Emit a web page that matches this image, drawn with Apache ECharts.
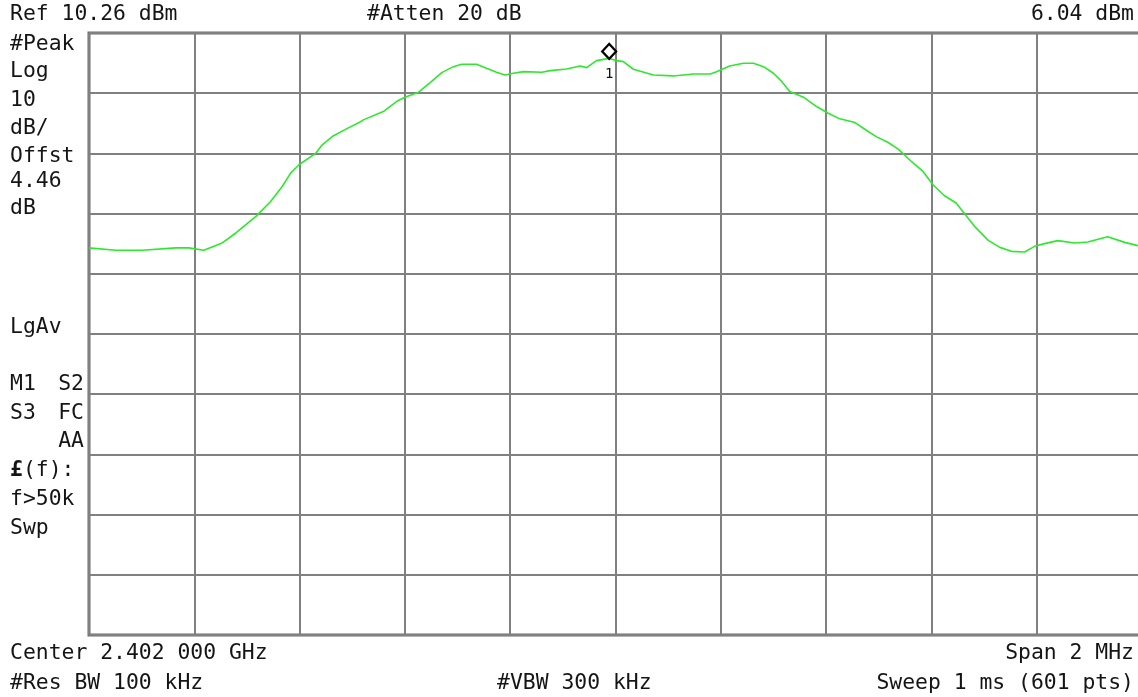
<!DOCTYPE html>
<html>
<head>
<meta charset="utf-8">
<script src="https://cdn.jsdelivr.net/npm/echarts@6/dist/echarts.min.js"></script>
<style>
html,body{margin:0;padding:0;background:#fff;overflow:hidden;width:1138px;height:697px;}
#chart{width:1146px;height:697px;}
</style>
</head>
<body>
<div id="chart"></div>
<script>
// Instrument settings
const REF_LEVEL_DBM = 10.26;
const DB_PER_DIV = 10;
const SPAN_KHZ = 2000;

// Trace: frequency offset from centre (kHz) and level (dBm)
const freqOffsetKHz = [
  -1000, -949, -899, -835, -810, -782, -747, -721, -683, -655,
  -633, -617, -601, -569, -557, -538, -512, -487, -479, -441,
  -416, -400, -375, -352, -330, -308, -292, -264, -245, -226,
  -210, -194, -175, -140, -124, -93, -67, -55, -36, -12,
  2, 15, 34, 72, 110, 148, 180, 192, 217, 243,
  262, 281, 300, 316, 331, 357, 382, 404, 426, 455,
  477, 496, 518, 537, 562, 584, 603, 625, 647, 666,
  682, 708, 730, 752, 777, 796, 815, 840, 872, 897,
  935, 967, 992, 1000
];
const levelDbm = [
  -25.44, -25.84, -25.84, -25.44, -25.44, -25.84, -24.62, -22.96, -20.20, -17.72,
  -15.23, -13.01, -11.63, -9.69, -8.31, -6.94, -5.71, -4.62, -4.17, -2.79,
  -1.13, -0.40, 0.36, 2.02, 3.68, 4.67, 5.07, 5.07, 4.41, 3.74,
  3.29, 3.58, 3.84, 3.74, 4.01, 4.29, 4.79, 4.51, 5.67, 6.04,
  5.67, 5.50, 4.24, 3.29, 3.13, 3.46, 3.46, 3.84, 4.79, 5.24,
  5.24, 4.67, 3.58, 2.18, 0.53, -0.40, -1.96, -3.06, -4.00, -4.62,
  -5.94, -6.99, -7.93, -9.03, -11.08, -12.74, -14.95, -16.77, -17.98, -20.09,
  -21.86, -24.18, -25.35, -26.01, -26.11, -25.18, -24.73, -24.23, -24.62, -24.45,
  -23.57, -24.52, -25.06, -25.30
];

// Marker 1
const markerFreqKHz = -12;
const markerLevelDbm = 6.04;
const markerLabel = '1';

// Annotation texts
const topTexts = ['Ref 10.26 dBm', '#Atten 20 dB', '6.04 dBm'];
const sideTexts = ['#Peak', 'Log', '10', 'dB/', 'Offst', '4.46', 'dB'];
const bottomTexts = ['Center 2.402 000 GHz', 'Span 2 MHz', '#Res BW 100 kHz', '#VBW 300 kHz', 'Sweep 1 ms (601 pts)'];

const FONT = '21.4px "DejaVu Sans Mono", monospace';
const TXT = '#151515';

const traceData = freqOffsetKHz.map((f, i) => [f, levelDbm[i] - REF_LEVEL_DBM]);

function txt(text, x, y, align, extra) {
  return {
    type: 'text', x: x, y: y, silent: true,
    style: Object.assign({ text: text, font: FONT, fill: TXT, align: align || 'left', verticalAlign: 'middle' }, extra || {})
  };
}

const sideY = [44, 71, 100, 128, 156, 181, 208];
const graphics = [
  txt(topTexts[0], 10, 14),
  txt(topTexts[1], 367, 14),
  txt(topTexts[2], 1134, 14, 'right'),
  txt('LgAv', 10, 327),
  txt('M1', 10, 384), txt('S2', 84, 384, 'right'),
  txt('S3', 10, 413), txt('FC', 84, 413, 'right'),
  txt('AA', 84, 441, 'right'),
  txt('{b|£}(f):', 10, 470, 'left', { rich: { b: { font: 'bold 21.4px "DejaVu Sans Mono", monospace', fill: TXT } } }),
  txt('f>50k', 10, 499),
  txt('Swp', 10, 528),
  txt(bottomTexts[0], 10, 653),
  txt(bottomTexts[1], 1134, 653, 'right'),
  txt(bottomTexts[2], 10, 683),
  txt(bottomTexts[3], 497, 683),
  txt(bottomTexts[4], 1134, 683, 'right')
];
sideTexts.forEach((t, i) => graphics.push(txt(t, 10, sideY[i])));

const chart = echarts.init(document.getElementById('chart'), null, { renderer: 'canvas' });
chart.setOption({
  backgroundColor: '#ffffff',
  animation: false,
  grid: {
    left: 89, top: 33, width: 1053, height: 602,
    show: true, borderColor: '#6c6c6c', borderWidth: 3, backgroundColor: 'transparent'
  },
  xAxis: {
    type: 'value', min: -SPAN_KHZ / 2, max: SPAN_KHZ / 2, interval: SPAN_KHZ / 10,
    axisLine: { show: false }, axisTick: { show: false }, axisLabel: { show: false },
    splitLine: { show: true, lineStyle: { color: '#808080', width: 2 } }
  },
  yAxis: {
    type: 'value', min: -10 * DB_PER_DIV, max: 0, interval: DB_PER_DIV,
    axisLine: { show: false }, axisTick: { show: false }, axisLabel: { show: false },
    splitLine: { show: true, lineStyle: { color: '#808080', width: 2 } }
  },
  series: [{
    type: 'line',
    data: traceData,
    showSymbol: false,
    smooth: false,
    lineStyle: { color: '#2ee82e', width: 1.6 },
    markPoint: {
      symbol: 'diamond',
      symbolSize: [14, 15],
      symbolOffset: [0, -7],
      itemStyle: { color: 'rgba(0,0,0,0)', borderColor: '#000', borderWidth: 2.2 },
      label: {
        show: true, formatter: markerLabel, position: 'bottom', distance: 7,
        color: '#111', fontFamily: '"DejaVu Sans Mono", monospace', fontSize: 14
      },
      data: [{ coord: [markerFreqKHz, markerLevelDbm - REF_LEVEL_DBM] }]
    }
  }],
  graphic: graphics
});
</script>
</body>
</html>
